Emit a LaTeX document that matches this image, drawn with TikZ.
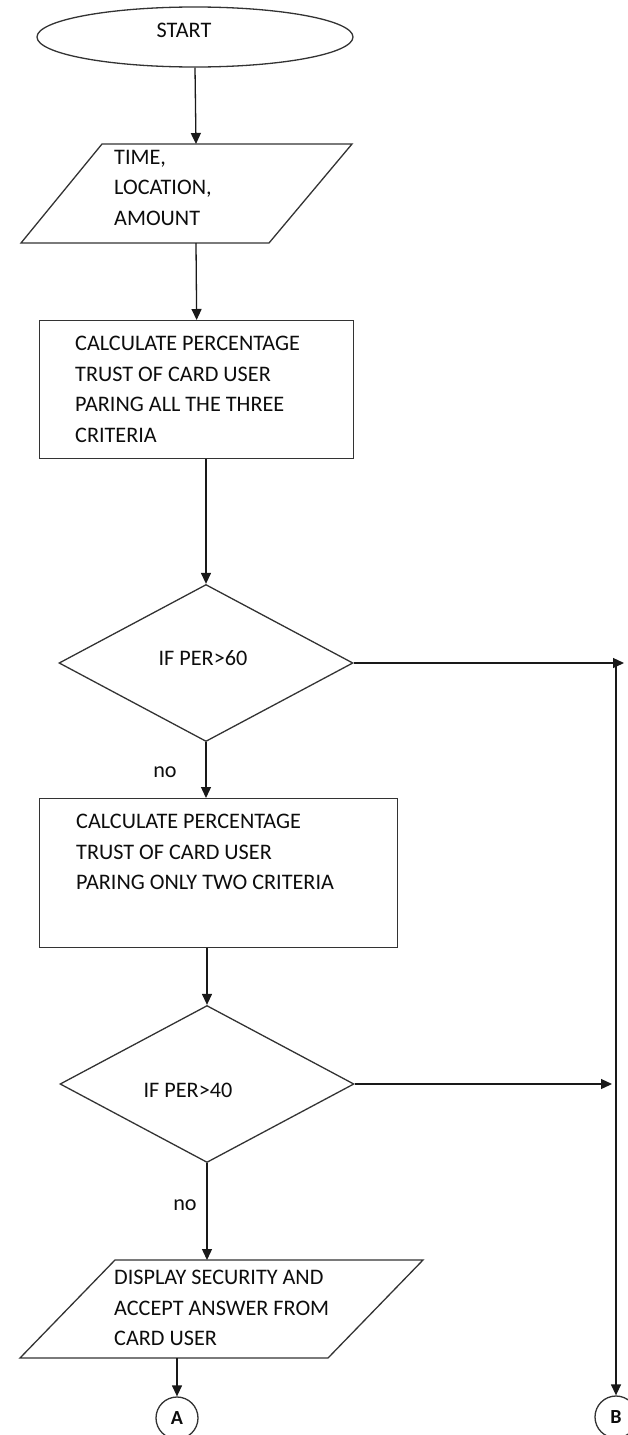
\documentclass[tikz,border=0pt]{standalone}
\usepackage{fontspec}
\setmainfont{Carlito}
\usetikzlibrary{shapes.geometric,arrows.meta}
\begin{document}
\begin{tikzpicture}[x=1pt,y=-1pt,
  every node/.style={font=\fontsize{22.2}{30.5}\selectfont, text=black!95},
  outline/.style={draw=black!80, line width=1.3pt},
  flow/.style={draw=black!90, line width=1.3pt, -{Triangle[length=11pt,width=10pt]}},
  txt/.style={anchor=north west, align=left, inner sep=0pt},
  stepbox/.style={outline, rectangle, anchor=north west, inner sep=0pt},
  decision/.style={outline, diamond, inner sep=0pt, minimum width=294pt, minimum height=157pt},
  conn/.style={outline, circle, inner sep=0pt, minimum size=42pt, font=\fontsize{20}{24}\selectfont\bfseries}
]
\useasboundingbox (0,0) rectangle (628,1435);

% start terminal
\node[outline, ellipse, inner sep=0pt, minimum width=316pt, minimum height=60pt] (start) at (195,37) {};
\node (starttext) at (184,30) {START};

% input: time, location, amount
\draw[outline] (102,144) -- (352,144) -- (269,243) -- (21,243) -- cycle;
\coordinate (p1top) at (196,144);
\coordinate (p1bot) at (196,243);
\node[txt] (p1text) at (114,150) {TIME,\\LOCATION,\\AMOUNT};

% trust from all three criteria
\node[stepbox, minimum width=314pt, minimum height=138pt] (calc1) at (39,320) {};
\node[txt] (calc1text) at (75,336) {CALCULATE PERCENTAGE\\TRUST OF CARD USER\\PARING ALL THE THREE\\CRITERIA};

% first decision
\node[decision] (d1) at (206,663) {};
\node (d1text) at (203,658) {IF PER>60};
\node (no1) at (165,772) {no};

% trust from two criteria
\node[stepbox, minimum width=358pt, minimum height=149pt] (calc2) at (39,798) {};
\node[txt] (calc2text) at (76,814) {CALCULATE PERCENTAGE\\TRUST OF CARD USER\\PARING ONLY TWO CRITERIA};

% second decision
\node[decision] (d2) at (207,1084) {};
\node (d2text) at (188,1090) {IF PER>40};
\node (no2) at (185,1205) {no};

% security question
\draw[outline] (115,1260) -- (423,1260) -- (328,1358) -- (20,1358) -- cycle;
\coordinate (p2top) at (207,1260);
\coordinate (p2bot) at (177,1358);
\node[txt] (p2text) at (114,1270) {DISPLAY SECURITY AND\\ACCEPT ANSWER FROM\\CARD USER};

% off-page connectors
\node[conn] (A) at (177,1418) {A};
\node[conn] (B) at (616,1417) {B};
\coordinate (yes1) at (624,663);
\coordinate (yes2) at (612,1084);
\coordinate (bus) at (616,665);

% connectors
\draw[flow] (start.south) -- (p1top);
\draw[flow] (p1bot) -- (calc1.north);
\draw[flow] (d1.north |- calc1.south) -- (d1.north);
\draw[flow] (d1.south) -- (d1.south |- calc2.north);
\draw[flow] (d2.north |- calc2.south) -- (d2.north);
\draw[flow] (d2.south) -- (p2top);
\draw[flow] (p2bot) -- (A.north);
\draw[flow] (d1.east) -- (yes1);
\draw[flow] (d2.east) -- (yes2);
\draw[flow] (bus) -- (B.north);
\end{tikzpicture}
\end{document}
